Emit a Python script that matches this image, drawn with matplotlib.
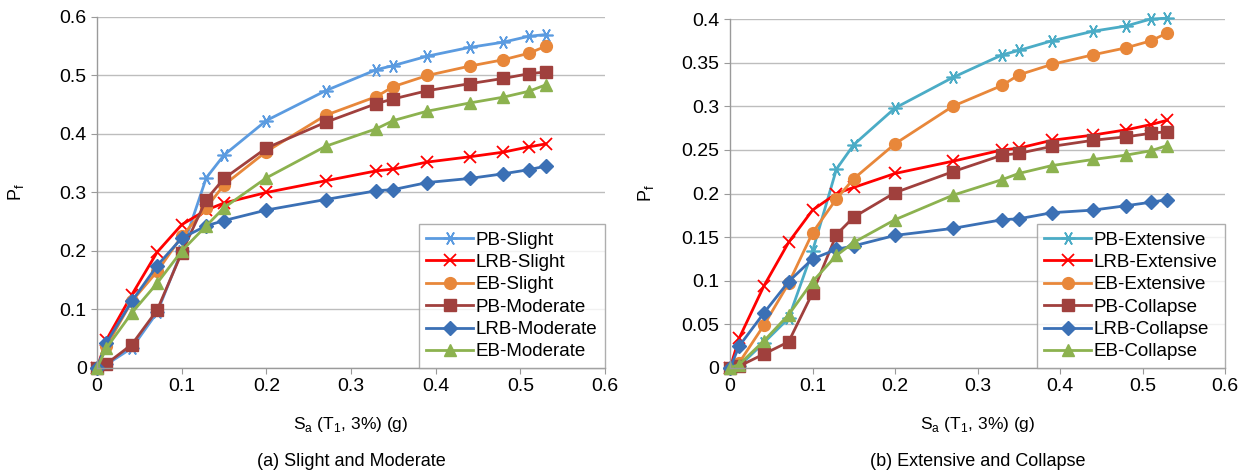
import matplotlib
matplotlib.use("Agg")
import matplotlib.pyplot as plt
from matplotlib.ticker import FuncFormatter

plt.rcParams['font.family'] = ['Liberation Sans', 'DejaVu Sans']

# Sa (T1, 3%) in g, same for every curve
sa = [0, 0.011, 0.041, 0.071, 0.1, 0.129, 0.15, 0.2, 0.27, 0.33, 0.35, 0.39, 0.44, 0.48, 0.51, 0.53]

# (a) slight and moderate
pb_slight = [0, 0.006, 0.034, 0.095, 0.2, 0.325, 0.364, 0.423, 0.474, 0.51, 0.517, 0.533, 0.548, 0.557, 0.567, 0.57]
lrb_slight = [0, 0.048, 0.125, 0.198, 0.245, 0.27, 0.282, 0.3, 0.32, 0.337, 0.34, 0.352, 0.361, 0.369, 0.378, 0.383]
eb_slight = [0, 0.037, 0.114, 0.165, 0.225, 0.274, 0.313, 0.37, 0.432, 0.464, 0.481, 0.5, 0.516, 0.527, 0.538, 0.55]
pb_moderate = [0, 0.007, 0.04, 0.099, 0.197, 0.288, 0.324, 0.376, 0.42, 0.452, 0.46, 0.474, 0.486, 0.495, 0.503, 0.506]
lrb_moderate = [0, 0.043, 0.114, 0.175, 0.222, 0.243, 0.252, 0.27, 0.288, 0.303, 0.305, 0.317, 0.324, 0.332, 0.339, 0.345]
eb_moderate = [0, 0.034, 0.094, 0.145, 0.2, 0.243, 0.274, 0.325, 0.379, 0.409, 0.423, 0.439, 0.453, 0.463, 0.473, 0.484]

# (b) extensive and collapse
pb_extensive = [0, 0.002, 0.029, 0.057, 0.134, 0.228, 0.256, 0.298, 0.333, 0.359, 0.364, 0.375, 0.386, 0.392, 0.4, 0.401]
lrb_extensive = [0, 0.034, 0.094, 0.144, 0.181, 0.2, 0.207, 0.223, 0.237, 0.25, 0.252, 0.261, 0.267, 0.273, 0.279, 0.284]
eb_extensive = [0, 0.006, 0.049, 0.097, 0.155, 0.194, 0.217, 0.257, 0.3, 0.324, 0.336, 0.348, 0.359, 0.367, 0.375, 0.384]
pb_collapse = [0, 0.002, 0.016, 0.03, 0.086, 0.153, 0.173, 0.201, 0.225, 0.244, 0.246, 0.254, 0.261, 0.265, 0.269, 0.271]
lrb_collapse = [0, 0.025, 0.063, 0.099, 0.125, 0.136, 0.14, 0.152, 0.16, 0.17, 0.171, 0.178, 0.181, 0.186, 0.19, 0.193]
eb_collapse = [0, 0.004, 0.031, 0.061, 0.099, 0.129, 0.144, 0.17, 0.198, 0.216, 0.223, 0.232, 0.239, 0.244, 0.249, 0.255]

red = '#ff0000'
orange = '#e8873a'
darkred = '#a0403d'
blue = '#3b70b5'
green = '#8cb24f'

def fmt(v, pos):
    s = ('%.2f' % v).rstrip('0').rstrip('.')
    return s

def style(ax, ymax, ystep, ylab_x):
    ax.set_xlim(0, 0.6)
    ax.set_ylim(0, ymax)
    ax.set_xticks([0, 0.1, 0.2, 0.3, 0.4, 0.5, 0.6])
    n = int(round(ymax / ystep))
    ax.set_yticks([i * ystep for i in range(n + 1)])
    ax.xaxis.set_major_formatter(FuncFormatter(fmt))
    ax.yaxis.set_major_formatter(FuncFormatter(fmt))
    ax.grid(axis='y', color='#bdbdbd', lw=1)
    ax.set_axisbelow(True)
    for s in ['top', 'right']:
        ax.spines[s].set_visible(False)
    for s in ['left', 'bottom']:
        ax.spines[s].set_color('#9a9a9a')
        ax.spines[s].set_linewidth(1)
    ax.tick_params(colors='#9a9a9a', labelcolor='black', labelsize=14, length=4, direction='out')
    ax.set_xlabel(r'S$_\mathregular{a}$ (T$_\mathregular{1}$, 3%) (g)', fontsize=12.5, labelpad=14)
    ax.set_ylabel(r'P$_\mathregular{f}$', fontsize=13)
    ax.yaxis.set_label_coords(ylab_x, 0.5)

def series(ax, y, label, color, marker, ms, mew=1.0):
    ax.plot(sa, y, color=color, lw=2, marker=marker, ms=ms, mec=color, mfc=color,
            mew=mew, label=label, clip_on=False)

fig = plt.figure(figsize=(12.49, 4.76), dpi=100)
ax1 = fig.add_axes([0.0777, 0.2269, 0.4067, 0.7374])
ax2 = fig.add_axes([0.5845, 0.2269, 0.3963, 0.7331])

series(ax1, pb_slight, 'PB-Slight', '#5b9be0', (6, 2, 90), 10, 1.2)
series(ax1, lrb_slight, 'LRB-Slight', red, 'x', 9, 1.3)
series(ax1, eb_slight, 'EB-Slight', orange, 'o', 8.5)
series(ax1, pb_moderate, 'PB-Moderate', darkred, 's', 8.5)
series(ax1, lrb_moderate, 'LRB-Moderate', blue, 'D', 7)
series(ax1, eb_moderate, 'EB-Moderate', green, '^', 8.5)
style(ax1, 0.6, 0.1, -0.14)

series(ax2, pb_extensive, 'PB-Extensive', '#4bacc6', (6, 2, 90), 10, 1.2)
series(ax2, lrb_extensive, 'LRB-Extensive', red, 'x', 9, 1.3)
series(ax2, eb_extensive, 'EB-Extensive', orange, 'o', 8.5)
series(ax2, pb_collapse, 'PB-Collapse', darkred, 's', 8.5)
series(ax2, lrb_collapse, 'LRB-Collapse', blue, 'D', 7)
series(ax2, eb_collapse, 'EB-Collapse', green, '^', 8.5)
style(ax2, 0.4, 0.05, -0.15)

for ax in (ax1, ax2):
    leg = ax.legend(loc='lower right', fontsize=13.5, frameon=True, fancybox=False,
                    borderaxespad=0, handlelength=2.5, handletextpad=0.15,
                    labelspacing=0.28, borderpad=0.4)
    leg.get_frame().set_edgecolor('#9a9a9a')
    leg.get_frame().set_linewidth(1)

fig.text(0.2811, 0.012, '(a) Slight and Moderate', ha='center', va='bottom', fontsize=13)
fig.text(0.7827, 0.012, '(b) Extensive and Collapse', ha='center', va='bottom', fontsize=13)

fig.savefig('out.png', dpi=100)
